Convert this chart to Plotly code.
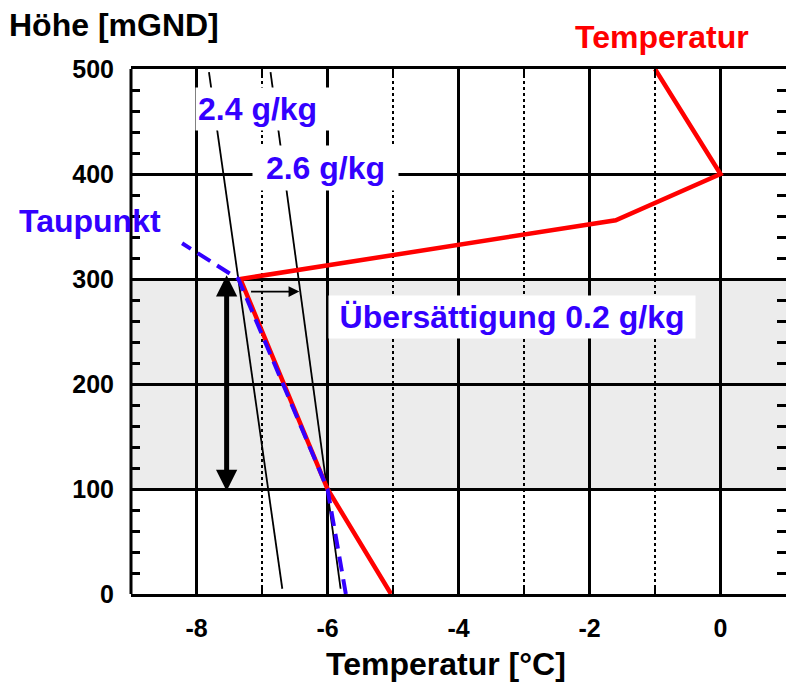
import plotly.graph_objects as go

# ---- data ----
temp_x = [-5.03, -6.0, -7.33, -1.6, 0.0, -1.0]
temp_h = [0, 100, 300, 356, 400, 500]

dew_x = [-5.72, -6.0, -7.36, -8.22]
dew_h = [0, 100, 300, 334]

mix24_x = [-7.81, -6.69]
mix24_h = [497, 5]
mix26_x = [-6.87, -5.80]
mix26_h = [497, 5]

band_h = [100, 300]            # supersaturated layer
dbl_arrow_x = -7.54
dbl_arrow_h = [305, 98]
sat_arrow_x = [-7.19, -6.43]
sat_arrow_h = 288

x_ticks = [-8, -6, -4, -2, 0]
x_tick_text = ["-8", "-6", "-4", "-2", "0"]
x_minor = [-7, -5, -3, -1]
y_ticks = [0, 100, 200, 300, 400, 500]
y_tick_text = ["0", "100", "200", "300", "400", "500"]

RED = "#FF0000"
BLUE = "#3300FF"
FAM = "Liberation Sans, Arial, sans-serif"

fig = go.Figure()

fig.add_trace(go.Scatter(x=mix24_x, y=mix24_h, mode="lines",
                         line=dict(color="black", width=1.8), showlegend=False, hoverinfo="skip"))
fig.add_trace(go.Scatter(x=mix26_x, y=mix26_h, mode="lines",
                         line=dict(color="black", width=1.8), showlegend=False, hoverinfo="skip"))
fig.add_trace(go.Scatter(x=temp_x, y=temp_h, mode="lines",
                         line=dict(color=RED, width=4.5), showlegend=False))
fig.add_trace(go.Scatter(x=dew_x, y=dew_h, mode="lines",
                         line=dict(color=BLUE, width=4, dash="15px,8px"), showlegend=False))

# shaded layer
fig.add_shape(type="rect", xref="paper", x0=0, x1=1, yref="y", y0=band_h[0], y1=band_h[1],
              fillcolor="#ECECEC", line=dict(width=0), layer="below")
# left frame line
fig.add_shape(type="line", xref="paper", x0=0, x1=0, yref="paper", y0=0, y1=1,
              line=dict(color="black", width=3), layer="above")

# arrows
fig.add_annotation(x=dbl_arrow_x, y=dbl_arrow_h[1], ax=dbl_arrow_x, ay=dbl_arrow_h[0],
                   xref="x", yref="y", axref="x", ayref="y", text="",
                   showarrow=True, arrowhead=2, startarrowhead=2, arrowside="end+start",
                   arrowsize=0.85, startarrowsize=0.85, arrowwidth=5, arrowcolor="black",
                   standoff=0, startstandoff=0)
fig.add_annotation(x=sat_arrow_x[1], y=sat_arrow_h, ax=sat_arrow_x[0], ay=sat_arrow_h,
                   xref="x", yref="y", axref="x", ayref="y", text="",
                   showarrow=True, arrowhead=2, arrowsize=1.2, arrowwidth=1.8,
                   arrowcolor="black", standoff=0)

def lab(text, x, y, color, xref="x", yref="y", bg=None, size=32, width=None,
        height=None, align="center"):
    fig.add_annotation(text=text, x=x, y=y, xref=xref, yref=yref, showarrow=False,
                       xanchor="center", yanchor="middle", align=align,
                       font=dict(family=FAM, size=size, color=color, weight="bold"),
                       bgcolor=bg, borderpad=2, width=width, height=height)

lab("2.4 g/kg", -7.0, 462, BLUE, bg="white", width=129, height=38, align="left")
lab("2.6 g/kg", -6.03, 406, BLUE, bg="white", width=141, height=40)
lab("Übersättigung 0.2 g/kg", -3.18, 264, BLUE, bg="white", width=362, height=38)
lab("Taupunkt", -0.0626, 355, BLUE, xref="paper")
lab("Temperatur", 0.81, 1.06, RED, xref="paper", yref="paper")
lab("Höhe [mGND]", -0.026, 1.083, "black", xref="paper", yref="paper")
lab("Temperatur [°C]", 0.481, -0.133, "black", xref="paper", yref="paper")

fig.update_xaxes(range=[-9, 1], tickmode="array", tickvals=x_ticks, ticktext=x_tick_text,
                 showgrid=True, gridcolor="black", gridwidth=2.5,
                 showline=True, linecolor="black", linewidth=3, mirror="ticks",
                 ticks="inside", ticklen=9, tickwidth=2.5, tickcolor="black",
                 minor=dict(tickmode="array", tickvals=x_minor, showgrid=True, gridcolor="black",
                            gridwidth=2, griddash="dot", ticks="inside", ticklen=9,
                            tickwidth=2, tickcolor="black"),
                 zeroline=False, ticklabelstandoff=10,
                 tickfont=dict(family=FAM, size=25, color="black", weight="bold"))
fig.update_yaxes(range=[0, 500], tickmode="array", tickvals=y_ticks, ticktext=y_tick_text,
                 showgrid=True, gridcolor="black", gridwidth=2.5,
                 showline=False, mirror="ticks",
                 ticks="inside", ticklen=9, tickwidth=2.5, tickcolor="black",
                 minor=dict(dtick=20, ticks="inside", ticklen=9, tickwidth=2.5,
                            tickcolor="black", showgrid=False),
                 zeroline=False, ticklabelstandoff=16,
                 tickfont=dict(family=FAM, size=25, color="black", weight="bold"))

fig.update_layout(width=786, height=682, margin=dict(l=131, r=0, t=69, b=88),
                  plot_bgcolor="white", paper_bgcolor="white", showlegend=False)

fig.write_html("out.html")
